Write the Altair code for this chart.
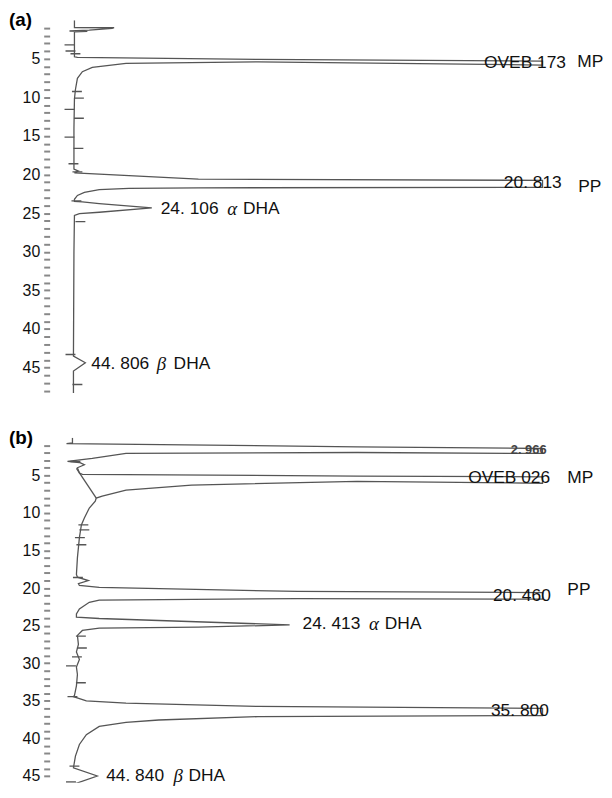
import altair as alt
import pandas as pd

# ---------------- panel (a) trace: retention time (min) vs detector signal ----------------
a_t = [0.0, 0.95, 0.98, 1.05, 1.3, 1.4, 1.45, 1.5, 4.75, 4.83, 5.09, 5.3, 5.81, 5.39, 5.6,
       6.12, 6.67, 7.53, 8.98, 10.2, 14.0, 19.3, 19.55, 19.78, 19.95, 20.6, 20.75,
       21.65, 21.72, 21.8, 21.95, 22.3, 22.7, 23.2, 23.47, 23.55, 23.77, 24.32, 24.88, 25.05,
       25.3, 30.0, 43.52, 44.37, 45.45, 48.3]
a_s = [0, 0, 40, 38, 15, -5, 13, 0, 0, 3, 185, 472, 472, 185, 52,
       18, 8, 3, 1, 0, -0.5, -0.5, 4, 0, 25, 125, 472,
       472, 125, 55, 25, 10, 3, 0, 0, 8, 25, 78, 25, 5,
       0, -0.5, -1, 11, -1, -1]

# ---------------- panel (b) trace ----------------
b_t = [0.0, 0.7, 0.78, 1.21, 1.44, 2.1, 1.97, 2.1, 2.76, 3.16, 3.3, 3.6, 4.0, 4.7, 4.87,
       5.1, 5.2, 6.06, 5.8, 6.32, 6.98, 7.78, 8.04, 8.44, 9.36, 10.68, 11.6, 13.3, 15.96,
       18.2, 18.56, 19.0, 19.4, 19.66, 19.92, 20.45, 20.6, 21.47, 21.4, 21.6, 21.9, 22.78,
       23.45, 23.88, 24.05, 24.9, 25.2, 25.33, 25.64, 26.3, 27.5, 28.5, 29.5, 30.5, 31.5,
       33.0, 34.3, 34.44, 35.0, 35.3, 35.75, 36.0, 36.95, 37.1, 37.55, 37.87, 38.4, 39.5,
       40.8, 42.36, 43.9, 45.0, 46.1, 47.3]
b_s = [-2, -2, -8, 285, 472, 472, 285, 52, 18, -7, 5, 10, 3, 5, 8,
       285, 472, 472, 285, 118, 52, 28, 22, 21, 15, 10, 7, 5, 3,
       2, 3, 14, 4, 5, 25, 225, 472, 472, 225, 25, 15, 5,
       2, 2, 25, 217, 125, 25, 8, 3, 4, 2, 5, 2, 3,
       2, 0, -1, 12, 52, 185, 472, 472, 185, 85, 52, 25, 12,
       5, 1, -1, 23, -1, -1]
# integrator baseline drawn under the MP peak in (b)
b_base_t = [4.08, 8.04]
b_base_s = [2, 22]

# integrator tick marks
a_tick_t = [3.2, 4.0, 4.35, 9.24, 10.1, 11.55, 12.7, 15.15, 16.6, 18.6, 19.65, 23.4, 26.1, 43.3, 47.2]
a_tick_s = [-5, -4, 1, 2.5, 4.5, -5, 4.5, -5, 4, -1, 3, 2, 6, -4, 3]
b_tick_t = [3.16, 11.6, 12.27, 13.3, 14.25, 18.6, 26.4, 27.97, 29.15, 30.35, 32.6, 34.44, 43.68, 45.8]
b_tick_s = [1, 9, 10, 5.5, 7, 3.5, 6.5, 7.5, 2.5, -3.5, 6.5, -2, 0, -3.5]

# peak labels
a_lab = ["OVEB 173", "MP", "20. 813", "PP", "24. 106", "DHA", "44. 806", "DHA"]
a_lab_t = [5.6, 5.39, 21.15, 21.58, 24.45, 24.45, 44.6, 44.6]
a_lab_s = [413, 507, 433, 508, 87, 170, 17, 100]
a_greek = ["α", "β"]
a_greek_t = [24.45, 44.6]
a_greek_s = [154, 83]

b_lab = ["OVEB 026", "MP", "20. 460", "PP", "24. 413", "DHA", "35. 800", "44. 840", "DHA"]
b_lab_t = [5.4, 5.4, 21.0, 20.33, 24.8, 24.8, 36.3, 45.0, 45.0]
b_lab_s = [397, 497, 422, 497, 230, 313, 420, 32, 115]
b_greek = ["α", "β"]
b_greek_t = [24.8, 45.0]
b_greek_s = [297, 100]
b_small = ["2. 966"]
b_small_t = [1.7]
b_small_s = [440]

LINE = "#555555"
SANS = "Liberation Sans"


def panel(tr_t, tr_s, base_t, base_s, tk_t, tk_s, lab, lab_t, lab_s,
          gk, gk_t, gk_s, sm, sm_t, sm_s, tmax, height, plabel):
    xs = alt.Scale(domain=[-25, 525], nice=False, zero=False)
    ys = alt.Scale(domain=[0, tmax], reverse=True, nice=False, zero=False)
    vals = [v for v in range(1, 49) if v <= tmax]
    yaxis = alt.Axis(values=vals, labelExpr="datum.value % 5 == 0 ? datum.label : ''",
                     tickSize=6, tickWidth=2, tickColor="#888888", domain=False, grid=False,
                     labelFontSize=16, labelFont=SANS, labelColor="#111111", labelPadding=4,
                     title=None)
    X = alt.X("s:Q", scale=xs, axis=None)
    Y = alt.Y("t:Q", scale=ys, axis=yaxis)
    tr = pd.DataFrame({"t": tr_t + base_t, "s": tr_s + base_s,
                       "i": list(range(len(tr_t))) + list(range(len(base_t))),
                       "seg": ["trace"] * len(tr_t) + ["base"] * len(base_t)})
    line = alt.Chart(tr).mark_line(color=LINE, strokeWidth=1.3, clip=True).encode(
        x=X, y=Y, order="i:Q", detail="seg:N")
    tk = alt.Chart(pd.DataFrame({"t": tk_t, "s": tk_s})).transform_calculate(
        s1="datum.s - 5", s2="datum.s + 5").mark_rule(color=LINE, strokeWidth=1.4,
                                                        clip=True).encode(
        x=alt.X("s1:Q", scale=xs, axis=None), x2="s2:Q", y=Y)
    txt = alt.Chart(pd.DataFrame({"t": lab_t, "s": lab_s, "lab": lab})).mark_text(
        align="left", baseline="middle", font=SANS, fontSize=17.5, color="#111111").encode(
        x=X, y=Y, text="lab:N")
    gtx = alt.Chart(pd.DataFrame({"t": gk_t, "s": gk_s, "lab": gk})).mark_text(
        align="left", baseline="middle", font="Liberation Serif", fontStyle="italic",
        fontSize=19, color="#111111").encode(x=X, y=Y, text="lab:N")
    layers = [line, tk, txt, gtx]
    if sm:
        stx = alt.Chart(pd.DataFrame({"t": sm_t, "s": sm_s, "lab": sm})).mark_text(
            align="left", baseline="middle", font=SANS, fontSize=13, fontWeight="bold",
            color="#444444").encode(x=X, y=Y, text="lab:N")
        layers.append(stx)
    pl = alt.Chart(pd.DataFrame({"lab": [plabel]})).mark_text(
        align="left", baseline="middle", font=SANS, fontSize=19, fontWeight="bold",
        color="#000000").encode(x=alt.value(-41), y=alt.value(0), text="lab:N")
    layers.append(pl)
    return alt.layer(*layers).properties(width=550, height=height)


pa = panel(a_t, a_s, [], [], a_tick_t, a_tick_s, a_lab, a_lab_t, a_lab_s,
           a_greek, a_greek_t, a_greek_s, [], [], [], 48.3, 376, "(a)")
pb = panel(b_t, b_s, b_base_t, b_base_s, b_tick_t, b_tick_s, b_lab, b_lab_t, b_lab_s,
           b_greek, b_greek_t, b_greek_s, b_small, b_small_t, b_small_s, 45.9, 348, "(b)")

chart = alt.vconcat(pa, pb, spacing=36).properties(
    padding={"left": 1, "top": 0, "right": 0, "bottom": 0},
    background="white").configure_view(stroke=None)

chart.save("out.html", embed_options={"renderer": "svg", "actions": False})
